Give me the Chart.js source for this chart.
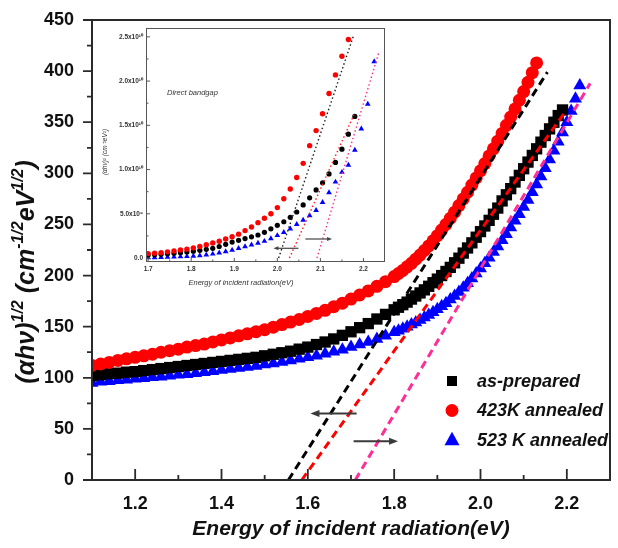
<!DOCTYPE html>
<html><head><meta charset="utf-8">
<script src="https://cdn.jsdelivr.net/npm/chart.js@4.4.0/dist/chart.umd.min.js"></script>
<style>
html,body{margin:0;padding:0;background:#fff;}
#wrap{position:relative;width:618px;height:548px;overflow:hidden;}
#main{position:absolute;left:0;top:0;}
#inset{position:absolute;left:90px;top:22px;}
</style></head><body>
<div id="wrap">
<canvas id="main" width="618" height="548"></canvas>
<canvas id="inset" width="300" height="272"></canvas>
</div>
<script>
// ===== main chart data (energy in eV, (αhν)^1/2) =====
const energy = [1.10,1.12,1.14,1.16,1.18,1.20,1.22,1.24,1.26,1.28,
  1.30,1.32,1.34,1.36,1.38,1.40,1.42,1.44,1.46,1.48,
  1.50,1.52,1.54,1.56,1.58,1.60,1.62,1.64,1.66,1.68,
  1.70,1.72,1.74,1.76,1.78,1.80,
  1.81,1.82,1.83,1.84,1.85,1.86,1.87,1.88,1.89,1.90,
  1.91,1.92,1.93,1.94,1.95,1.96,1.97,1.98,1.99,2.00,
  2.01,2.02,2.03,2.04,2.05,2.06,2.07,2.08,2.09,2.10,
  2.11,2.12,2.13,2.14,2.15,2.16,2.17,2.18,2.19,2.20,
  2.21,2.22,2.23];
const annealed423 = [112,113.5,115,117,118.5,120,121.5,123,125,126.5,
  128,130,131.5,133,135,137,139,141,143,145,
  147,149.5,152,154.5,157,160,163,166,169.5,173,
  177,181,185,189.5,194,199,
  202,205,208.5,212,216,220,224.5,229,234,239,
  244.5,250,256,262,268.5,275,281.5,288.5,295.5,302.5,
  309.5,317,324,331.5,339,347,355,363,371.5,380,
  389,398.5,408,null,null,null,null,null,null,null,
  null,null,null];
const asPrepared = [102,103,104,104.5,105.5,106,107,108,109,110,
  111,112,113,114,115,116,117,118,119,120,
  121.5,123,124.5,126,128,130,132.5,135,138,141.5,
  145,149,153,157.5,162,166.5,
  169,171.5,174,177,180,183,186,189.5,193,196.5,
  200,204,208,212.5,217,222,227,232,237.5,243,
  248.5,254,260,266,273,279,285,291.5,298,304.5,
  311,317.5,324,330.5,337,343.5,350,356.5,362,null,
  null,null,null];
const annealed523 = [95,96,96.5,97.5,98,99,99.5,100.5,101,102,
  103,103.5,104.5,105.5,106.5,107.5,108.5,109.5,110.5,111.5,
  113,114,115.5,117,118.5,120,121.5,123.5,125.5,127.5,
  130,132.5,135,138,141,144.5,
  146,148,150,152,154,156.5,159,161.5,164,167,
  170,173,176.5,180,184,188,192.5,197,202,207,
  212,217.5,223,228.5,234.5,240.5,247,253.5,260,267,
  274,281.5,289,297,305,313.5,322,331,340,350,
  361,373,386];
const seriesLabels = ['as-prepared','423K annealed','523 K annealed'];
// dashed extrapolation lines [E start, E end], [value start, value end]
const fitBlackE = [1.555, 2.155], fitBlackV = [0, 399];
const fitRedE = [1.586, 2.196], fitRedV = [0, 360];
const fitPinkE = [1.71, 2.254], fitPinkV = [0, 388];
// arrows [E tail, E head, value]
const arrowLeft = [1.713, 1.606, 65];
const arrowRight = [1.706, 1.809, 38];
// ticks
const xTicks = [1.2,1.4,1.6,1.8,2.0,2.2];
const xMinorTicks = [1.3,1.5,1.7,1.9,2.1];
const yTicks = [0,50,100,150,200,250,300,350,400,450];
const yMinorTicks = [25,75,125,175,225,275,325,375,425];

// ===== inset data (energy in eV, (αhν)^2 in units of 10^10) =====
const insetEnergy = [1.700,1.715,1.730,1.745,1.760,1.775,1.790,1.805,1.820,1.835,
  1.850,1.865,1.880,1.895,1.910,1.925,1.940,1.955,1.970,1.985,
  2.000,2.015,2.030,2.045,2.060,2.075,2.090,2.105,2.120,2.135,
  2.150,2.165,2.180,2.195,2.210,2.225];
const insetRed = [0.05,0.055,0.06,0.07,0.08,0.09,0.10,0.115,0.13,0.15,
  0.17,0.19,0.215,0.24,0.27,0.31,0.35,0.40,0.45,0.50,
  0.57,0.67,0.78,0.91,1.07,1.27,1.44,1.63,1.86,2.07,
  2.28,2.47,null,null,null,null];
const insetBlack = [0.035,0.038,0.042,0.047,0.053,0.06,0.068,0.077,0.087,0.098,
  0.11,0.13,0.155,0.18,0.20,0.22,0.24,0.26,0.29,0.33,
  0.37,0.41,0.46,0.52,0.60,0.68,0.77,0.85,0.95,1.08,
  1.23,1.40,1.60,null,null,null];
const insetBlue = [0.005,0.006,0.008,0.01,0.012,0.015,0.018,0.022,0.028,0.036,
  0.046,0.058,0.073,0.09,0.11,0.13,0.15,0.17,0.19,0.22,
  0.255,0.29,0.33,0.38,0.43,0.48,0.54,0.63,0.74,0.86,
  0.97,1.05,1.22,1.46,1.74,2.22];
const insetFitBlackE = [2.003, 2.176], insetFitBlackV = [0, 2.50];
const insetFitRedE = [2.028, 2.178], insetFitRedV = [0, 1.62];
const insetFitPinkE = [2.092, 2.236], insetFitPinkV = [0, 2.33];
const insetArrowLeft = [2.049, 1.991, 0.11];
const insetArrowRight = [2.065, 2.127, 0.215];
const insetXTicks = [1.7,1.8,1.9,2.0,2.1,2.2];
const insetXMinor = [1.75,1.85,1.95,2.05,2.15];
const insetYTicks = [0,0.5,1.0,1.5,2.0,2.5];
const insetYLabels = ['0.0','5.0x10\u2079','1.0x10\u00b9\u2070','1.5x10\u00b9\u2070','2.0x10\u00b9\u2070','2.5x10\u00b9\u2070'];
const insetYMinor = [0.25,0.75,1.25,1.75,2.25];

const F = '"Liberation Sans", Arial, sans-serif';
const PINK = '#ff2d96';
const pts = (xs, ys) => xs.map((x, i) => ({x: x, y: ys[i]})).filter(p => p.y !== null);

function arrow(ctx, x1, y1, x2, y2, head, w) {
  const dir = Math.sign(x2 - x1);
  ctx.beginPath(); ctx.moveTo(x1, y1); ctx.lineTo(x2 - dir * head * 0.8, y2); ctx.stroke();
  ctx.beginPath(); ctx.moveTo(x2, y2); ctx.lineTo(x2 - dir * head, y2 - w); ctx.lineTo(x2 - dir * head, y2 + w); ctx.closePath(); ctx.fill();
}
function marker(ctx, style, x, y, r) {
  ctx.beginPath();
  if (style === 'rect') { ctx.rect(x - r, y - r, 2 * r, 2 * r); }
  else if (style === 'circle') { ctx.arc(x, y, r, 0, Math.PI * 2); }
  else { ctx.moveTo(x, y - r * 1.1); ctx.lineTo(x + r, y + r * 0.7); ctx.lineTo(x - r, y + r * 0.7); ctx.closePath(); }
  ctx.fill();
}

const mainDecor = {
  id: 'mainDecor',
  afterDraw(chart) {
    const {ctx, chartArea: a, scales: {x, y}} = chart;
    ctx.save();
    // frame
    ctx.strokeStyle = '#2a2a2a'; ctx.lineWidth = 2;
    ctx.strokeRect(a.left, a.top, a.right - a.left, a.bottom - a.top);
    // y ticks (outward)
    ctx.lineWidth = 1.8; ctx.beginPath();
    yTicks.forEach(v => { const p = y.getPixelForValue(v); ctx.moveTo(a.left, p); ctx.lineTo(a.left - 9, p); });
    yMinorTicks.forEach(v => { const p = y.getPixelForValue(v); ctx.moveTo(a.left, p); ctx.lineTo(a.left - 5, p); });
    // x ticks (inward)
    xTicks.forEach(v => { const p = x.getPixelForValue(v); ctx.moveTo(p, a.bottom); ctx.lineTo(p, a.bottom - 11); });
    xMinorTicks.forEach(v => { const p = x.getPixelForValue(v); ctx.moveTo(p, a.bottom); ctx.lineTo(p, a.bottom - 5); });
    ctx.stroke();
    // arrows
    ctx.strokeStyle = '#3a3a3a'; ctx.fillStyle = '#3a3a3a'; ctx.lineWidth = 2;
    [arrowLeft, arrowRight].forEach(ar => {
      arrow(ctx, x.getPixelForValue(ar[0]), y.getPixelForValue(ar[2]), x.getPixelForValue(ar[1]), y.getPixelForValue(ar[2]), 9, 3.5);
    });
    // legend
    const items = chart.data.datasets.filter(d => d.legendRank !== undefined).sort((p, q) => p.legendRank - q.legendRank);
    ctx.font = 'italic bold 18px ' + F; ctx.textBaseline = 'middle'; ctx.textAlign = 'left';
    items.forEach((d, i) => {
      const ly = a.top + 361 + i * 29.5, lx = a.left + 360;
      ctx.fillStyle = d.backgroundColor;
      marker(ctx, d.pointStyle, lx, ly, d.pointStyle === 'rect' ? 5 : (d.pointStyle === 'circle' ? 6.5 : 7.5));
      ctx.fillStyle = '#111';
      ctx.fillText(d.label, lx + 25, ly + 1);
    });
    // y title with superscripts
    const parts = [['(\u03b1h\u03bd)', 0], ['1/2', 1], [' (cm', 0], ['-1/2', 1], ['eV', 0], ['1/2', 1], [')', 0]];
    const big = 'italic bold 25px ' + F, small = 'italic bold 16px ' + F;
    let total = 0;
    parts.forEach(p => { ctx.font = p[1] ? small : big; total += ctx.measureText(p[0]).width; });
    ctx.translate(26, 272); ctx.rotate(-Math.PI / 2);
    ctx.fillStyle = '#111'; ctx.textBaseline = 'alphabetic';
    let cx = -total / 2;
    parts.forEach(p => { ctx.font = p[1] ? small : big; ctx.fillText(p[0], cx, p[1] ? -3 : 8); cx += ctx.measureText(p[0]).width; });
    ctx.restore();
  }
};

const lineDs = (xs, vs, color, dash, w) => ({type: 'scatter', data: pts(xs, vs), showLine: true, borderColor: color, borderWidth: w, borderDash: dash, pointRadius: 0, fill: false, clip: 0});

new Chart(document.getElementById('main'), {
  type: 'scatter',
  data: {datasets: [
    lineDs(fitBlackE, fitBlackV, '#000', [8, 5], 3),
    lineDs(fitRedE, fitRedV, '#ff0000', [8, 5], 3),
    lineDs(fitPinkE, fitPinkV, PINK, [8, 5], 3),
    {label: seriesLabels[1], legendRank: 1, data: pts(energy, annealed423), pointStyle: 'circle', pointRadius: 6.5, backgroundColor: '#ff0000', borderWidth: 0, clip: 0},
    {label: seriesLabels[0], legendRank: 0, data: pts(energy, asPrepared), pointStyle: 'rect', pointRadius: 8, backgroundColor: '#000000', borderWidth: 0, clip: 0},
    {label: seriesLabels[2], legendRank: 2, data: pts(energy, annealed523), pointStyle: 'triangle', pointRadius: 7.5, backgroundColor: '#0000ff', borderWidth: 0, clip: 0}
  ]},
  options: {
    responsive: false, animation: false, events: [],
    layout: {padding: {top: 20, right: 3, left: 0, bottom: 0}},
    plugins: {legend: {display: false}, tooltip: {enabled: false}},
    scales: {
      x: {type: 'linear', min: 1.1, max: 2.3,
        afterFit: s => { s.height = 68; s.paddingLeft = 0; s.paddingRight = 0; },
        afterBuildTicks: s => { s.ticks = xTicks.map(v => ({value: v})); },
        grid: {display: false, drawTicks: false}, border: {display: false},
        ticks: {padding: 13, autoSkip: false, maxRotation: 0, color: '#111', font: {family: F, size: 18, weight: 'bold'}, callback: v => v.toFixed(1)},
        title: {display: true, text: 'Energy of incident radiation(eV)', color: '#111', font: {family: F, size: 21, weight: 'bold', style: 'italic'}, padding: {top: 0, bottom: 6}}
      },
      y: {type: 'linear', min: 0, max: 450,
        afterFit: s => { s.width = 92; s.paddingTop = 0; s.paddingBottom = 0; },
        afterBuildTicks: s => { s.ticks = yTicks.map(v => ({value: v})); },
        grid: {display: false, drawTicks: false}, border: {display: false},
        ticks: {padding: 18, autoSkip: false, color: '#111', font: {family: F, size: 18, weight: 'bold'}}
      }
    }
  },
  plugins: [mainDecor]
});

const insetDecor = {
  id: 'insetDecor',
  afterDraw(chart) {
    const {ctx, chartArea: a, scales: {x, y}} = chart;
    ctx.save();
    ctx.strokeStyle = '#555'; ctx.lineWidth = 1;
    ctx.strokeRect(a.left + 0.5, a.top + 0.5, a.right - a.left - 1, a.bottom - a.top - 1);
    ctx.beginPath();
    insetYTicks.forEach(v => { const p = y.getPixelForValue(v); ctx.moveTo(a.left, p); ctx.lineTo(a.left + 4, p); });
    insetYMinor.forEach(v => { const p = y.getPixelForValue(v); ctx.moveTo(a.left, p); ctx.lineTo(a.left + 2.5, p); });
    insetXTicks.forEach(v => { const p = x.getPixelForValue(v); ctx.moveTo(p, a.bottom); ctx.lineTo(p, a.bottom - 4); });
    insetXMinor.forEach(v => { const p = x.getPixelForValue(v); ctx.moveTo(p, a.bottom); ctx.lineTo(p, a.bottom - 2.5); });
    ctx.stroke();
    ctx.strokeStyle = '#444'; ctx.fillStyle = '#444'; ctx.lineWidth = 1.2;
    [insetArrowLeft, insetArrowRight].forEach(ar => {
      arrow(ctx, x.getPixelForValue(ar[0]), y.getPixelForValue(ar[2]), x.getPixelForValue(ar[1]), y.getPixelForValue(ar[2]), 5, 2);
    });
    ctx.fillStyle = '#333';
    ctx.font = 'italic 7.5px ' + F; ctx.textAlign = 'left'; ctx.textBaseline = 'middle';
    ctx.fillText('Direct bandgap', 77, 71);
    ctx.textAlign = 'center';
    ctx.font = 'italic 7.5px ' + F;
    ctx.fillText('Energy of incident radiation(eV)', 151, 261);
    ctx.translate(15, 130); ctx.rotate(-Math.PI / 2);
    ctx.font = 'italic 6.5px ' + F;
    ctx.fillText('(\u03b1h\u03bd)\u00b2 (cm\u207b\u00b2eV\u00b2)', 0, 0);
    ctx.restore();
  }
};

const dotDs = (xs, vs, color) => ({type: 'scatter', data: pts(xs, vs), showLine: true, borderColor: color, borderWidth: 1.4, borderDash: [1.5, 2.5], pointRadius: 0, fill: false, clip: 0});

new Chart(document.getElementById('inset'), {
  type: 'scatter',
  data: {datasets: [
    dotDs(insetFitBlackE, insetFitBlackV, '#222'),
    dotDs(insetFitRedE, insetFitRedV, '#ff2020'),
    dotDs(insetFitPinkE, insetFitPinkV, PINK),
    {data: pts(insetEnergy, insetRed), pointStyle: 'circle', pointRadius: 2.7, backgroundColor: '#ff0000', borderWidth: 0, clip: 0},
    {data: pts(insetEnergy, insetBlack), pointStyle: 'circle', pointRadius: 2.6, backgroundColor: '#000000', borderWidth: 0, clip: 0},
    {data: pts(insetEnergy, insetBlue), pointStyle: 'triangle', pointRadius: 3.3, backgroundColor: '#0000ff', borderWidth: 0, clip: 0}
  ]},
  options: {
    responsive: false, animation: false, events: [],
    layout: {padding: {top: 6, right: 5, left: 0, bottom: 0}},
    plugins: {legend: {display: false}, tooltip: {enabled: false}},
    scales: {
      x: {type: 'linear', min: 1.695, max: 2.25,
        afterFit: s => { s.height = 32; s.paddingLeft = 0; s.paddingRight = 0; },
        afterBuildTicks: s => { s.ticks = insetXTicks.map(v => ({value: v})); },
        grid: {display: false, drawTicks: false}, border: {display: false},
        ticks: {padding: 3, autoSkip: false, maxRotation: 0, color: '#333', font: {family: F, size: 6.5, weight: 'bold'}, callback: v => v.toFixed(1)}
      },
      y: {type: 'linear', min: -0.045, max: 2.6,
        afterFit: s => { s.width = 56; s.paddingTop = 0; s.paddingBottom = 0; },
        afterBuildTicks: s => { s.ticks = insetYTicks.map(v => ({value: v})); },
        grid: {display: false, drawTicks: false}, border: {display: false},
        ticks: {padding: 3, autoSkip: false, color: '#333', font: {family: F, size: 6.5, weight: 'bold'}, callback: (v, i) => insetYLabels[i]}
      }
    }
  },
  plugins: [insetDecor]
});
</script>
</body></html>
